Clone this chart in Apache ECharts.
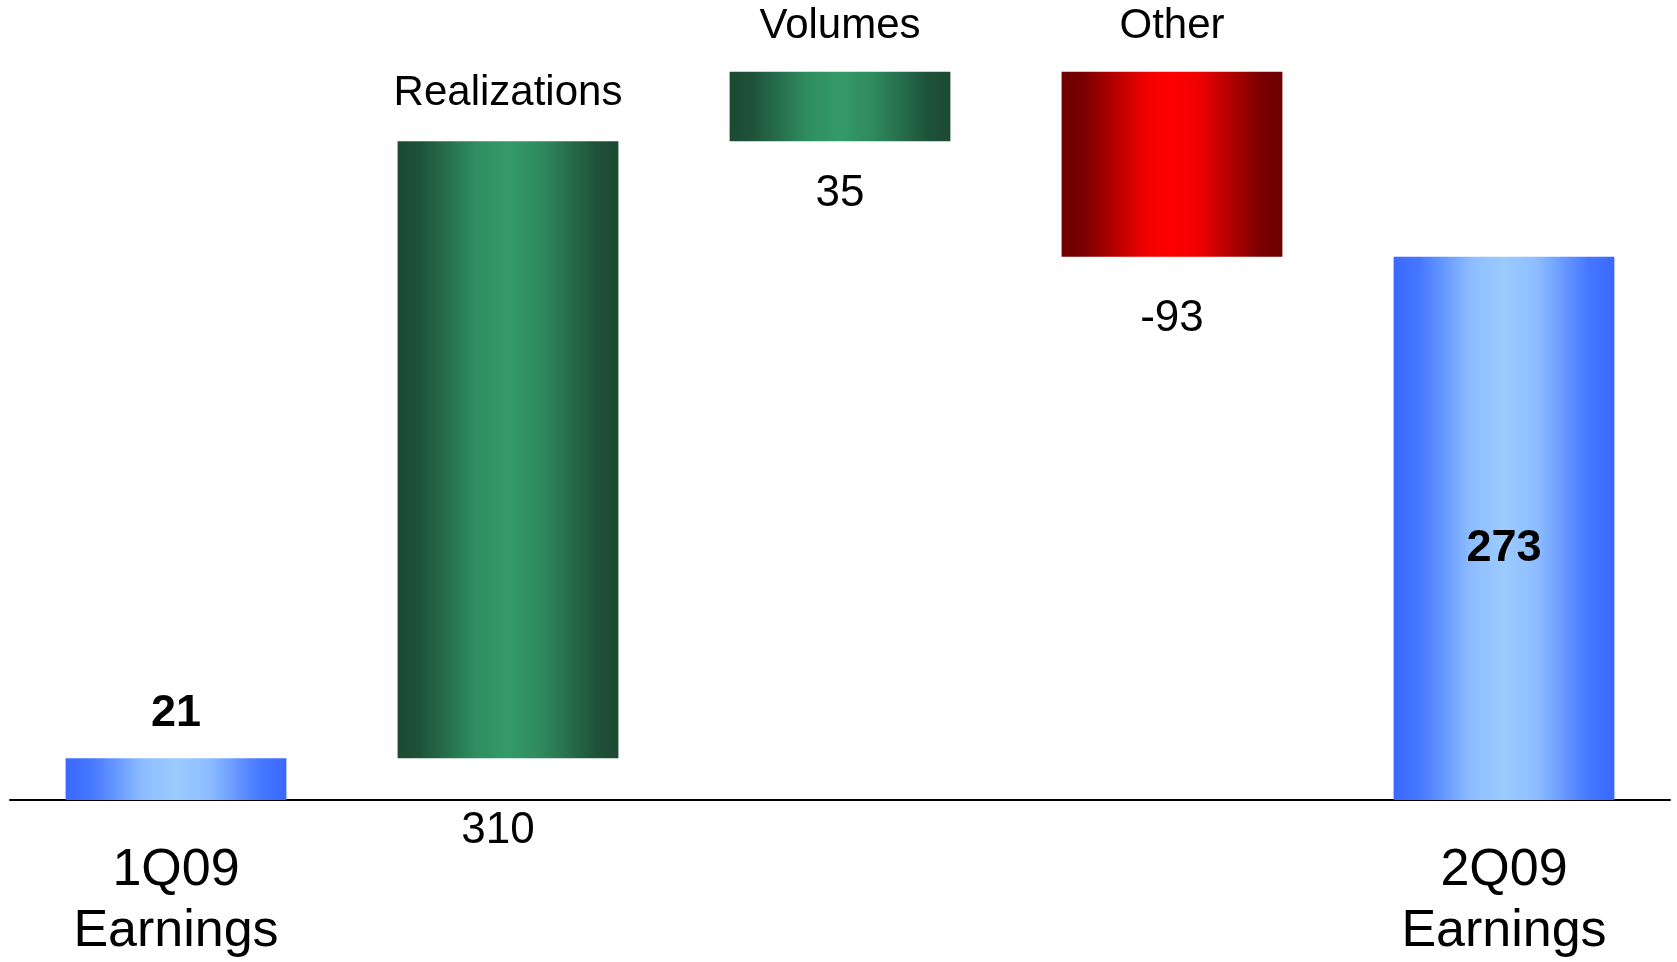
<!DOCTYPE html>
<html>
<head>
<meta charset="utf-8">
<script src="https://cdn.jsdelivr.net/npm/echarts@6/dist/echarts.min.js"></script>
<style>
  html, body { margin: 0; padding: 0; background: #fff; }
  #chart { width: 1677px; height: 962px; }
</style>
</head>
<body>
<div id="chart"></div>
<script>
// waterfall data
var categories = ['1Q09\nEarnings', 'Realizations', 'Volumes', 'Other', '2Q09\nEarnings']
var changes = [21, 310, 35, -93, 273]
var isTotal = [true, false, false, false, true]

// build invisible base + visible bar from the changes
var baseData = []
var barData = []
var running = 0
for (let i = 0; i < changes.length; i++) {
  if (isTotal[i]) {
    baseData.push(0)
    barData.push(changes[i])
    running = changes[i]
  } else {
    let v = changes[i]
    let low = v >= 0 ? running : running + v
    baseData.push(low)
    barData.push(Math.abs(v))
    running = running + v
  }
}

var blue = new echarts.graphic.LinearGradient(0, 0, 1, 0, [
  { offset: 0, color: '#3a68ff' },
  { offset: 0.12, color: '#4678ff' },
  { offset: 0.35, color: '#8dbdff' },
  { offset: 0.5, color: '#9ccbff' },
  { offset: 0.65, color: '#8dbdff' },
  { offset: 0.88, color: '#4678ff' },
  { offset: 1, color: '#3a68ff' }
])
var green = new echarts.graphic.LinearGradient(0, 0, 1, 0, [
  { offset: 0, color: '#1b4a32' },
  { offset: 0.1, color: '#1e5238' },
  { offset: 0.35, color: '#2f8d60' },
  { offset: 0.5, color: '#349a6a' },
  { offset: 0.65, color: '#2f8a5e' },
  { offset: 0.9, color: '#1e5238' },
  { offset: 1, color: '#1b4a32' }
])
var red = new echarts.graphic.LinearGradient(0, 0, 1, 0, [
  { offset: 0, color: '#700000' },
  { offset: 0.1, color: '#7a0000' },
  { offset: 0.38, color: '#f00000' },
  { offset: 0.5, color: '#ff0000' },
  { offset: 0.62, color: '#f00000' },
  { offset: 0.9, color: '#7a0000' },
  { offset: 1, color: '#700000' }
])

var font = 'Liberation Sans, Arial, sans-serif'
var topDist = [22, 27, 24, 24, 0]
var belowDist = [0, 51, 31, 40, 0]
var belowShift = [0, -10, 0, 0, 0]

var chart = echarts.init(document.getElementById('chart'))
chart.setOption({
  animation: false,
  grid: { left: 10, right: 7, top: 4, bottom: 159 },
  xAxis: {
    type: 'category',
    data: categories,
    axisTick: { show: false },
    axisLine: { lineStyle: { color: '#000', width: 2 } },
    axisLabel: {
      interval: 0,
      margin: 40,
      color: '#000',
      fontFamily: font,
      fontSize: 52,
      lineHeight: 61,
      formatter: function (val, idx) {
        return isTotal[idx] ? val : ''
      }
    }
  },
  yAxis: {
    type: 'value',
    min: 0,
    max: 400,
    show: false,
    splitLine: { show: false }
  },
  series: [
    {
      type: 'bar',
      stack: 'wf',
      barWidth: '66.5%',
      itemStyle: { color: 'transparent' },
      data: baseData.map(function (v, i) {
        return {
          value: v,
          label: {
            show: !isTotal[i],
            position: 'insideTop',
            distance: belowDist[i],
            offset: [belowShift[i], 0],
            formatter: String(changes[i]),
            color: '#000',
            fontFamily: font,
            fontSize: 44
          }
        }
      })
    },
    {
      type: 'bar',
      stack: 'wf',
      barWidth: '66.5%',
      data: barData.map(function (v, i) {
        let color = isTotal[i] ? blue : (changes[i] >= 0 ? green : red)
        let label
        if (isTotal[i] && i === 0) {
          label = { show: true, position: 'top', distance: topDist[i], formatter: String(changes[i]), fontWeight: 'bold', fontSize: 45 }
        } else if (isTotal[i]) {
          label = { show: true, position: 'inside', offset: [0, 20], formatter: String(changes[i]), fontWeight: 'bold', fontSize: 45 }
        } else {
          label = { show: true, position: 'top', distance: topDist[i], formatter: categories[i], fontSize: 42 }
        }
        label.color = '#000'
        label.fontFamily = font
        return { value: v, itemStyle: { color: color }, label: label }
      })
    }
  ]
})
</script>
</body>
</html>
